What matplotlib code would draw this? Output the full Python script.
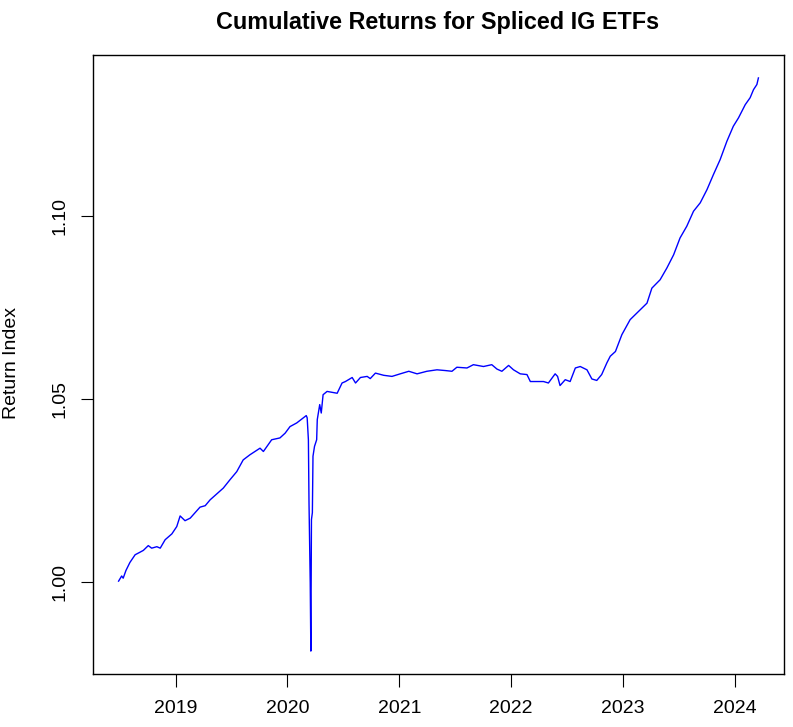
import numpy as np
import pandas as pd
import matplotlib
matplotlib.use("Agg")
import matplotlib.pyplot as plt
import matplotlib.dates as mdates

plt.rcParams["font.family"] = ["Liberation Sans", "DejaVu Sans"]

# values
dates = [
    "2018-06-29", "2018-07-09", "2018-07-14", "2018-07-23", "2018-08-05",
    "2018-08-22", "2018-09-07", "2018-09-18", "2018-10-04", "2018-10-15",
    "2018-11-01", "2018-11-12", "2018-11-28", "2018-12-20", "2019-01-05",
    "2019-01-16", "2019-02-01", "2019-02-18", "2019-03-22", "2019-04-08",
    "2019-04-24", "2019-06-06", "2019-06-28", "2019-07-20", "2019-08-10",
    "2019-09-01", "2019-10-04", "2019-10-15", "2019-11-11", "2019-12-08",
    "2019-12-25", "2020-01-10", "2020-02-01", "2020-03-03", "2020-03-06",
    "2020-03-10", "2020-03-12", "2020-03-16", "2020-03-18", "2020-03-20",
    "2020-03-23", "2020-03-25", "2020-03-30", "2020-04-06", "2020-04-08",
    "2020-04-16", "2020-04-21", "2020-04-27", "2020-05-10", "2020-06-12",
    "2020-06-28", "2020-07-09", "2020-07-31", "2020-08-11", "2020-08-27",
    "2020-09-18", "2020-09-28", "2020-10-15", "2020-11-11", "2020-12-08",
    "2021-01-04", "2021-02-01", "2021-02-28", "2021-04-01", "2021-05-04",
    "2021-05-31", "2021-06-22", "2021-07-08", "2021-08-10", "2021-08-31",
    "2021-10-03", "2021-10-30", "2021-11-16", "2021-12-02", "2021-12-24",
    "2022-01-09", "2022-01-31", "2022-02-22", "2022-03-05", "2022-03-27",
    "2022-04-17", "2022-05-03", "2022-05-25", "2022-06-02", "2022-06-10",
    "2022-06-27", "2022-07-13", "2022-07-30", "2022-08-15", "2022-09-06",
    "2022-09-22", "2022-10-08", "2022-10-24", "2022-11-10", "2022-11-21",
    "2022-12-08", "2022-12-29", "2023-01-25", "2023-02-27", "2023-03-21",
    "2023-04-06", "2023-05-03", "2023-05-25", "2023-06-16", "2023-07-07",
    "2023-07-29", "2023-08-20", "2023-09-11", "2023-10-03", "2023-10-24",
    "2023-11-15", "2023-12-07", "2023-12-28", "2024-01-14", "2024-02-05",
    "2024-02-21", "2024-03-03", "2024-03-14", "2024-03-19",
]
ret_index = [
    1.0002, 1.0016, 1.0010, 1.0031, 1.0053,
    1.0074, 1.0081, 1.0086, 1.0099, 1.0092,
    1.0096, 1.0092, 1.0115, 1.0131, 1.0151,
    1.0180, 1.0167, 1.0174, 1.0204, 1.0208,
    1.0224, 1.0256, 1.0279, 1.0301, 1.0333,
    1.0347, 1.0365, 1.0356, 1.0388, 1.0393,
    1.0406, 1.0424, 1.0434, 1.0454, 1.0448,
    1.0388, 1.0216, 0.9997, 0.9811, 1.0170,
    1.0189, 1.0343, 1.0370, 1.0388, 1.0443,
    1.0484, 1.0461, 1.0511, 1.0520, 1.0515,
    1.0543, 1.0547, 1.0558, 1.0543, 1.0558,
    1.0561, 1.0555, 1.0570, 1.0564, 1.0561,
    1.0568, 1.0575, 1.0568, 1.0575, 1.0579,
    1.0577, 1.0575, 1.0586, 1.0584, 1.0593,
    1.0588, 1.0593, 1.0581, 1.0575, 1.0591,
    1.0579, 1.0568, 1.0566, 1.0547, 1.0547,
    1.0547, 1.0543, 1.0568, 1.0561, 1.0536,
    1.0552, 1.0547, 1.0584, 1.0588, 1.0579,
    1.0554, 1.0550, 1.0566, 1.0598, 1.0616,
    1.0629, 1.0675, 1.0716, 1.0743, 1.0761,
    1.0802, 1.0825, 1.0857, 1.0893, 1.0939,
    1.0971, 1.1012, 1.1035, 1.1071, 1.1112,
    1.1153, 1.1203, 1.1244, 1.1267, 1.1303,
    1.1322, 1.1344, 1.1358, 1.1376,
]
year_ticks = ["2019", "2020", "2021", "2022", "2023", "2024"]
y_ticks = [1.00, 1.05, 1.10]

dt = pd.to_datetime(dates)

fig = plt.figure(figsize=(7.93, 7.27), dpi=100)
ax = fig.add_axes([93 / 793, 53 / 727, 691 / 793, 619 / 727])

ax.plot(dt, ret_index, color="blue", lw=1.0)

# R style 4% padding on both axes
span = dt.max() - dt.min()
ax.set_xlim(dt.min() - span * 0.04, dt.max() + span * 0.04)
lo, hi = min(ret_index), max(ret_index)
ax.set_ylim(lo - (hi - lo) * 0.04, hi + (hi - lo) * 0.04)

ax.set_xticks(pd.to_datetime([y + "-01-01" for y in year_ticks]))
ax.xaxis.set_major_formatter(mdates.DateFormatter("%Y"))
ax.set_yticks(y_ticks)
ax.set_yticklabels([f"{v:.2f}" for v in y_ticks], rotation=90, va="center")

ax.tick_params(axis="both", direction="out", length=9, width=0.8,
               labelsize=14, colors="black")
ax.tick_params(axis="x", pad=10)
ax.tick_params(axis="y", pad=9)
for s in ax.spines.values():
    s.set_linewidth(1.0)
    s.set_color("black")

fig.text(438 / 793, 1 - 23 / 727, "Cumulative Returns for Spliced IG ETFs",
         ha="center", va="center", fontsize=16.8, fontweight="bold")
fig.text(11.5 / 793, 1 - 363 / 727, "Return Index", rotation=90,
         ha="center", va="center", fontsize=14)

fig.savefig("out.png", dpi=100)
